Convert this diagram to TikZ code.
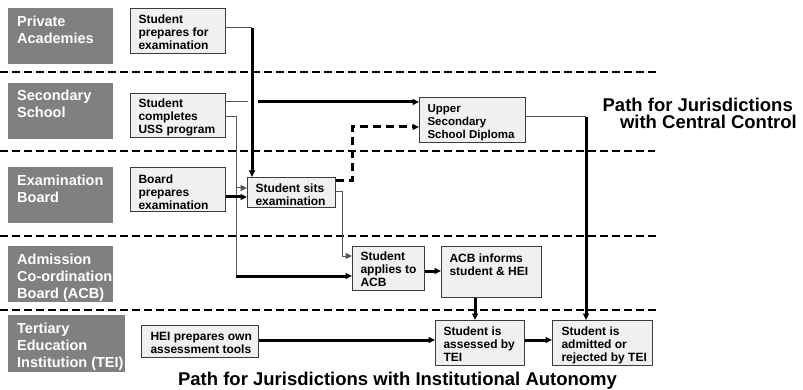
\documentclass[tikz,border=0pt]{standalone}
\usepackage{fontspec}
\setmainfont{Liberation Sans}
\usetikzlibrary{arrows.meta}
\definecolor{lanegray}{RGB}{128,128,128}
\definecolor{boxfill}{RGB}{240,240,240}
\definecolor{boxline}{RGB}{60,60,60}
\definecolor{thinline}{RGB}{85,85,85}
\newcommand{\tb}[3]{\parbox[c][#1][t]{#2}{\begin{tabular}{@{}l@{}}#3\end{tabular}}}
\begin{document}
\begin{tikzpicture}[x=1pt,y=-1pt,
  lane/.style={fill=lanegray, text=white, anchor=north west, inner xsep=9pt, inner ysep=6pt,
    font=\fontsize{14.5}{17}\selectfont\bfseries},
  stepbox/.style={draw=boxline, line width=1.1pt, fill=boxfill, anchor=north west, inner xsep=8pt,
    font=\fontsize{12}{13}\selectfont\bfseries},
  laneline/.style={line width=2.5pt, dash pattern=on 7.5pt off 4.5pt},
  thinconn/.style={draw=thinline, line width=1pt},
  thickconn/.style={line width=3pt},
  dashconn/.style={line width=3pt, dash pattern=on 8pt off 5pt},
  arrowend/.style={-{Triangle[length=6.5pt,width=6pt]}},
  titletext/.style={font=\fontsize{18.5}{16.8}\selectfont\bfseries, inner sep=0pt}
]
\useasboundingbox (0,0) rectangle (803,390);

% lane separators
\draw[laneline] (0,72) -- (657,72);
\draw[laneline] (0,151) -- (655,151);
\draw[laneline] (0,236) -- (657,236);
\draw[laneline] (0,310) -- (657,310);

% lane labels
\node[lane] (lpa) at (8,8) {\tb{44pt}{87pt}{Private\\Academies}};
\node[lane, inner ysep=5pt] (lss) at (8,83) {\tb{46pt}{87pt}{Secondary\\School}};
\node[lane] (leb) at (8,167) {\tb{44pt}{87pt}{Examination\\Board}};
\node[lane] (lacb) at (8,246) {\tb{44pt}{87pt}{Admission\\Co-ordination\\Board~(ACB)}};
\node[lane] (ltei) at (8,315) {\tb{45pt}{99pt}{Tertiary\\Education\\Institution~(TEI)}};

% process boxes
\node[stepbox, inner ysep=6pt] (prep) at (130,8) {\tb{33pt}{79pt}{Student\\prepares for\\examination}};
\node[stepbox, inner ysep=5pt] (comp) at (130,93) {\tb{34pt}{79pt}{Student\\completes\\USS program}};
\node[stepbox, inner ysep=6.5pt] (board) at (130,167) {\tb{31pt}{79pt}{Board\\prepares\\examination}};
\node[stepbox, inner ysep=5.5pt] (sits) at (247,177) {\tb{19pt}{72pt}{Student sits\\examination}};
\node[stepbox, inner ysep=5.5pt, font=\fontsize{11.5}{13}\selectfont\bfseries] (dipl) at (419,97) {\tb{34pt}{90pt}{Upper\\Secondary\\School Diploma}};
\node[stepbox, inner ysep=5pt] (apply) at (352,246) {\tb{34pt}{56pt}{Student\\applies to\\ACB}};
\node[stepbox, inner ysep=6.5pt] (inform) at (441,246) {\tb{38pt}{84pt}{ACB informs\\student \& HEI}};
\node[stepbox, inner ysep=6pt, inner xsep=9pt] (hei) at (141,325) {\tb{20pt}{99pt}{HEI prepares own\\assessment tools}};
\node[stepbox, inner ysep=6pt] (assess) at (435,320) {\tb{33pt}{73pt}{Student is\\assessed by\\TEI}};
\node[stepbox, inner ysep=6pt, inner xsep=9pt] (admit) at (552,320) {\tb{33pt}{82pt}{Student is\\admitted or\\rejected by TEI}};

% connectors
\draw[thinconn] (prep.east |- 0,28) -- (252,28) coordinate (k1);
\draw[thickconn, arrowend] (k1) -- (k1 |- sits.north);

\draw[thinconn] (comp.east |- 0,102) -- (248,102);
\draw[thickconn, arrowend] (258,102) -- (dipl.west |- 0,102);

\draw[thinconn] (comp.east |- 0,117) -- (236,117) coordinate (k2) -- (236,276) coordinate (k3);
\draw[thinconn, arrowend] (236,188) -- (sits.west |- 0,188);
\draw[thickconn, arrowend] (k3) -- (apply.west |- k3);

\draw[thickconn, arrowend] (board.east |- 0,197) -- (sits.west |- 0,197);

\draw[dashconn, arrowend] (sits.east |- 0,181) -- (352,181) -- (352,127) -- (dipl.west |- 0,127);

\draw[thinconn, arrowend] (sits.east |- 0,192) -- (342,192) -- (342,256) -- (apply.west |- 0,256);

\draw[thickconn, arrowend] (apply.east |- 0,271) -- (inform.west |- 0,271);
\draw[thickconn, arrowend] (inform.south -| 475,0) -- (assess.north -| 475,0);
\draw[thickconn, arrowend] (hei.east |- 0,340) -- (assess.west |- 0,340);
\draw[thickconn, arrowend] (assess.east |- 0,340) -- (admit.west |- 0,340);

\draw[thinconn] (dipl.east |- 0,117) -- (586,117) coordinate (k4);
\draw[thickconn, arrowend] (k4) -- (admit.north -| k4);

% titles
\node[titletext, anchor=north east, align=right] (tcentral) at (797,98) {Path for Jurisdictions\hspace*{4pt}\\with Central Control};
\node[titletext, anchor=base] (tauto) at (397.5,385) {Path for Jurisdictions with Institutional Autonomy};
\end{tikzpicture}
\end{document}
